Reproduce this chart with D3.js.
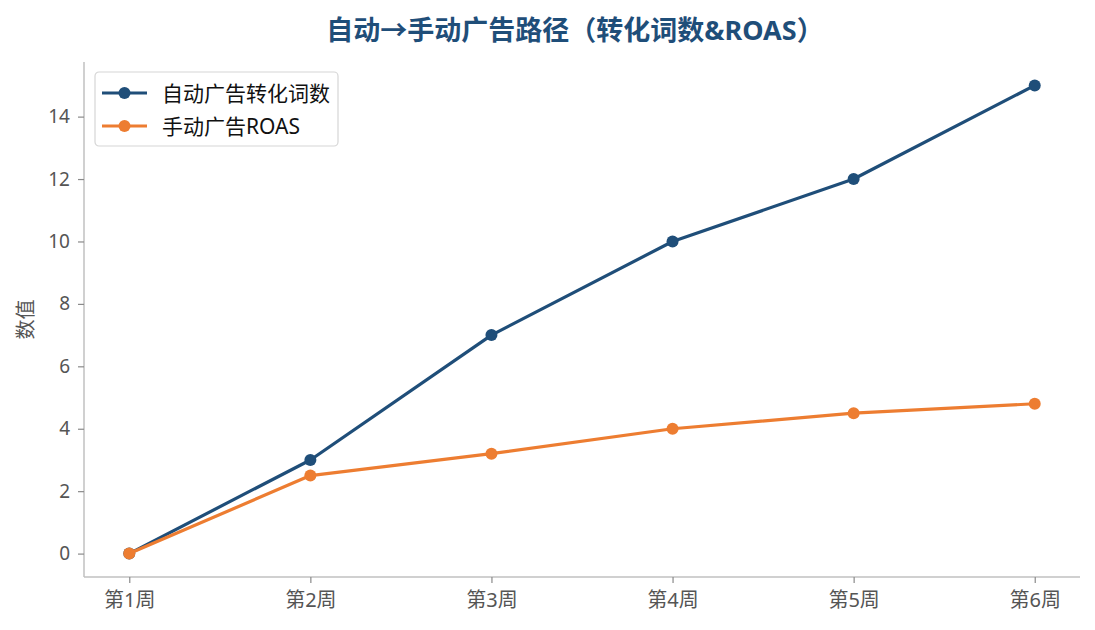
<!DOCTYPE html>
<html>
<head>
<meta charset="utf-8">
<script src="https://cdn.jsdelivr.net/npm/d3@7"></script>
<style>
body { margin: 0; background: #fff; }
text { font-family: "Noto Sans", "Noto Sans CJK SC", sans-serif; }
</style>
</head>
<body>
<script>
const weeks = ['第1周', '第2周', '第3周', '第4周', '第5周', '第6周'];
const autoWords = [0, 3, 7, 10, 12, 15];
const manualRoas = [0, 2.5, 3.2, 4.0, 4.5, 4.8];
const yTicks = [0, 2, 4, 6, 8, 10, 12, 14];

const width = 1095, height = 630;
const mLeft = 84, mRight = 1080, mTop = 62, mBottom = 577;
const font = '"Noto Sans", "Noto Sans CJK SC", sans-serif';

const svg = d3.select('body').append('svg')
  .attr('width', width).attr('height', height);

const x = d3.scalePoint().domain(weeks).range([mLeft, mRight]).padding(0.25);
const y = d3.scaleLinear().domain([-0.75, 15.75]).range([mBottom, mTop]);

// title
svg.append('text')
  .attr('x', 575).attr('y', 30)
  .attr('dy', '0.36em')
  .attr('text-anchor', 'middle')
  .attr('font-size', 27).attr('font-weight', 'bold')
  .attr('fill', '#1f4e79')
  .text('自动→手动广告路径（转化词数&ROAS）');

// axes
const xAxis = svg.append('g').attr('transform', `translate(0,${mBottom})`)
  .call(d3.axisBottom(x).tickSize(6).tickPadding(10));
const yAxis = svg.append('g').attr('transform', `translate(${mLeft},0)`)
  .call(d3.axisLeft(y).tickValues(yTicks).tickSize(6).tickPadding(8));
[xAxis, yAxis].forEach(g => {
  g.select('.domain').attr('stroke', '#c0c0c0').attr('stroke-width', 1.5);
  g.selectAll('.tick line').attr('stroke', '#8a8a8a').attr('stroke-width', 1.2);
  g.selectAll('.tick text').attr('fill', '#555').attr('font-size', 19)
    .style('font-family', font);
});
xAxis.selectAll('.tick text').attr('font-size', 20);
xAxis.select('.domain').attr('d', `M${mLeft},0H${mRight}`);
yAxis.select('.domain').attr('d', `M0,${mBottom}V${mTop}`);

svg.append('text')
  .attr('transform', `translate(26,${(mTop + mBottom) / 2}) rotate(-90)`)
  .attr('text-anchor', 'middle').attr('dy', '0.36em')
  .attr('font-size', 20).attr('fill', '#555')
  .text('数值');

const series = [
  { name: '自动广告转化词数', values: autoWords, color: '#1f4e79' },
  { name: '手动广告ROAS', values: manualRoas, color: '#ed7d31' }
];

const line = d3.line().x((d, i) => x(weeks[i])).y(d => y(d));

series.forEach(s => {
  svg.append('path').datum(s.values)
    .attr('d', line).attr('fill', 'none')
    .attr('stroke', s.color).attr('stroke-width', 3.2)
    .attr('stroke-linejoin', 'round');
  svg.selectAll(null).data(s.values).join('circle')
    .attr('cx', (d, i) => x(weeks[i])).attr('cy', d => y(d))
    .attr('r', 6).attr('fill', s.color);
});

// legend
const lg = svg.append('g').attr('transform', 'translate(95,72)');
lg.append('rect').attr('width', 243).attr('height', 74).attr('rx', 4)
  .attr('fill', '#fff').attr('fill-opacity', 0.85)
  .attr('stroke', '#d6d6d6').attr('stroke-width', 1.2);
series.forEach((s, i) => {
  const cy = 21 + i * 33;
  lg.append('line').attr('x1', 7).attr('x2', 52).attr('y1', cy).attr('y2', cy)
    .attr('stroke', s.color).attr('stroke-width', 3.2);
  lg.append('circle').attr('cx', 29.5).attr('cy', cy).attr('r', 6).attr('fill', s.color);
  lg.append('text').attr('x', 67).attr('y', cy).attr('dy', '0.36em')
    .attr('font-size', 21).attr('fill', '#111').text(s.name);
});
</script>
</body>
</html>
